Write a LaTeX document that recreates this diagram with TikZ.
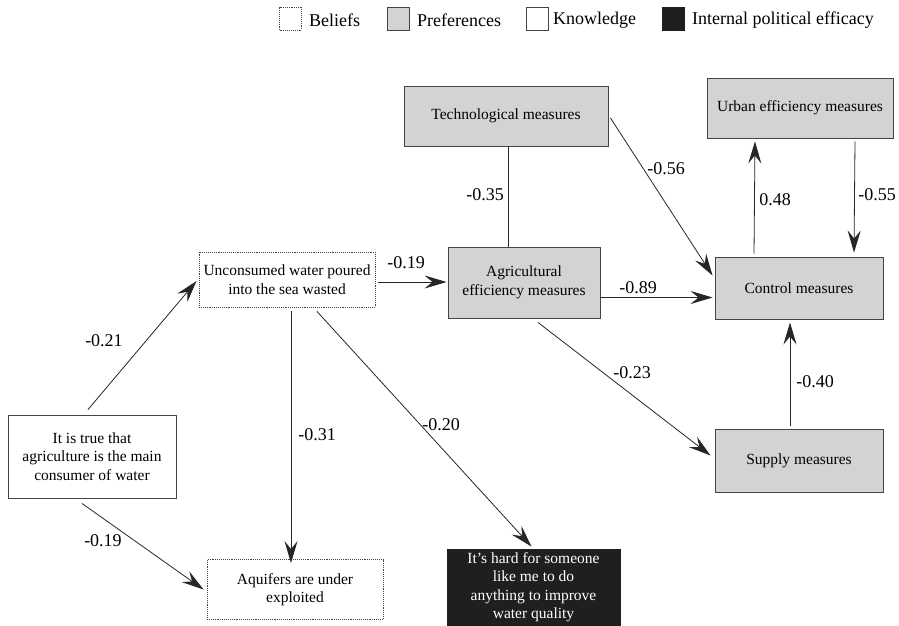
\documentclass[tikz,border=0pt]{standalone}
\usepackage{fontspec}
\setmainfont{Liberation Serif}
\usetikzlibrary{arrows.meta,calc}
\definecolor{boxgray}{HTML}{D3D3D3}
\definecolor{edgegray}{HTML}{444444}
\tikzset{
  txt/.style={font=\fontsize{15.5}{18.5}\selectfont},
  lbltxt/.style={font=\fontsize{18}{20}\selectfont},
  box/.style={txt, draw=edgegray, line width=0.9pt, align=center, inner sep=2pt},
  pref/.style={box, fill=boxgray},
  know/.style={box, fill=white},
  belief/.style={box, densely dotted, line width=0.9pt},
  eff/.style={box, fill=black!88, draw=black!88, text=white},
  lbl/.style={lbltxt, inner sep=0pt},
  legbox/.style={minimum width=22pt, minimum height=23pt, inner sep=0pt},
  link/.style={line width=0.8pt, draw=black!85},
  arr/.style={link, -{Stealth[length=22pt,width=13pt,inset=8pt]}},
}
\begin{document}
\begin{tikzpicture}[x=1pt,y=-1pt]
\useasboundingbox (0,0) rectangle (899,625);
% legend
\node[belief, legbox] (lb) at (290.5,18.5) {};
\node[lbl, anchor=west] (lbt) at (309,20) {Beliefs};
\node[pref, legbox] (lp) at (398,18.5) {};
\node[lbl, anchor=west] (lpt) at (417,20) {Preferences};
\node[know, legbox] (lk) at (537.5,18.5) {};
\node[lbl, anchor=west] (lkt) at (553,20) {Knowledge};
\node[eff, legbox] (le) at (673.5,18.5) {};
\node[lbl, anchor=west] (let) at (692,20) {Internal political efficacy};
% nodes
\node[pref, minimum width=204pt, minimum height=60pt] (tech) at (506,116) {Technological measures};
\node[pref, minimum width=186pt, minimum height=60pt] (urban) at (800,108) {Urban efficiency measures};
\node[pref, minimum width=152pt, minimum height=71pt] (agri) at (524,282.5) {Agricultural\\efficiency measures};
\node[pref, minimum width=168pt, minimum height=62pt] (control) at (799,288) {Control measures};
\node[pref, minimum width=168pt, minimum height=63pt] (supply) at (799,460.5) {Supply measures};
\node[belief, minimum width=176pt, minimum height=55pt] (unc) at (287,279.5) {Unconsumed water poured\\into the sea wasted};
\node[know, minimum width=168pt, minimum height=83pt] (true) at (92,456.5) {It is true that\\agriculture is the main\\consumer of water};
\node[belief, minimum width=176pt, minimum height=60pt] (aq) at (295,589.5) {Aquifers are under\\exploited};
\node[eff, minimum width=173pt, minimum height=76pt, font=\fontsize{15.5}{18.5}\selectfont] (hard) at (533.5,587) {It’s hard for someone\\like me to do\\anything to improve\\water quality};
% connectors
\draw[arr] ([xshift=-4pt,yshift=5pt]true.north) -- ([xshift=-2pt,yshift=-1.5pt]unc.west);
\draw[arr] ([xshift=-10pt,yshift=-5pt]true.south) -- ([xshift=-3pt,yshift=0pt]aq.west);
\draw[arr] ([xshift=4pt,yshift=-4pt]unc.south) -- ([xshift=4pt,yshift=-4pt]unc.south |- aq.north);
\draw[arr] ([xshift=30pt,yshift=-4pt]unc.south) -- ([xshift=-2pt,yshift=2pt]hard.north);
\draw[arr] ([xshift=3pt,yshift=-2.5pt]unc.east) -- ([xshift=-1pt,yshift=-2.5pt]unc.east -| agri.west);
\draw[link] ([xshift=2pt]tech.south) -- ([xshift=2pt]tech.south |- agri.north);
\draw[arr] ([xshift=2pt,yshift=-2pt]tech.east) -- ([xshift=-2pt,yshift=-19pt]control.north west);
\draw[arr] ([yshift=-15pt]agri.east) -- ([xshift=-2pt,yshift=-15pt]agri.east -| control.west);
\draw[arr] ([xshift=14pt,yshift=-4pt]agri.south) -- ([xshift=-4pt,yshift=5pt]supply.west);
\draw[arr] ([xshift=-45pt,yshift=3pt]control.north) -- ([xshift=-45pt,yshift=-3pt]urban.south);
\draw[arr] ([xshift=55pt,yshift=-3pt]urban.south) -- ([xshift=55pt,yshift=4pt]control.north);
\draw[arr] ([xshift=-9pt,yshift=3pt]supply.north) -- ([xshift=-9pt,yshift=-3pt]control.south);
% labels
\node[lbl] (l1) at (104,341) {-0.21};
\node[lbl] (l2) at (103,541) {-0.19};
\node[lbl] (l3) at (317,435) {-0.31};
\node[lbl] (l4) at (441,425) {-0.20};
\node[lbl] (l5) at (406,263) {-0.19};
\node[lbl] (l6) at (485,195) {-0.35};
\node[lbl] (l7) at (666,169) {-0.56};
\node[lbl] (l8) at (638,288) {-0.89};
\node[lbl] (l9) at (632,373) {-0.23};
\node[lbl] (l10) at (775,200) {0.48};
\node[lbl] (l11) at (877,195) {-0.55};
\node[lbl] (l12) at (815,382) {-0.40};
\end{tikzpicture}
\end{document}
